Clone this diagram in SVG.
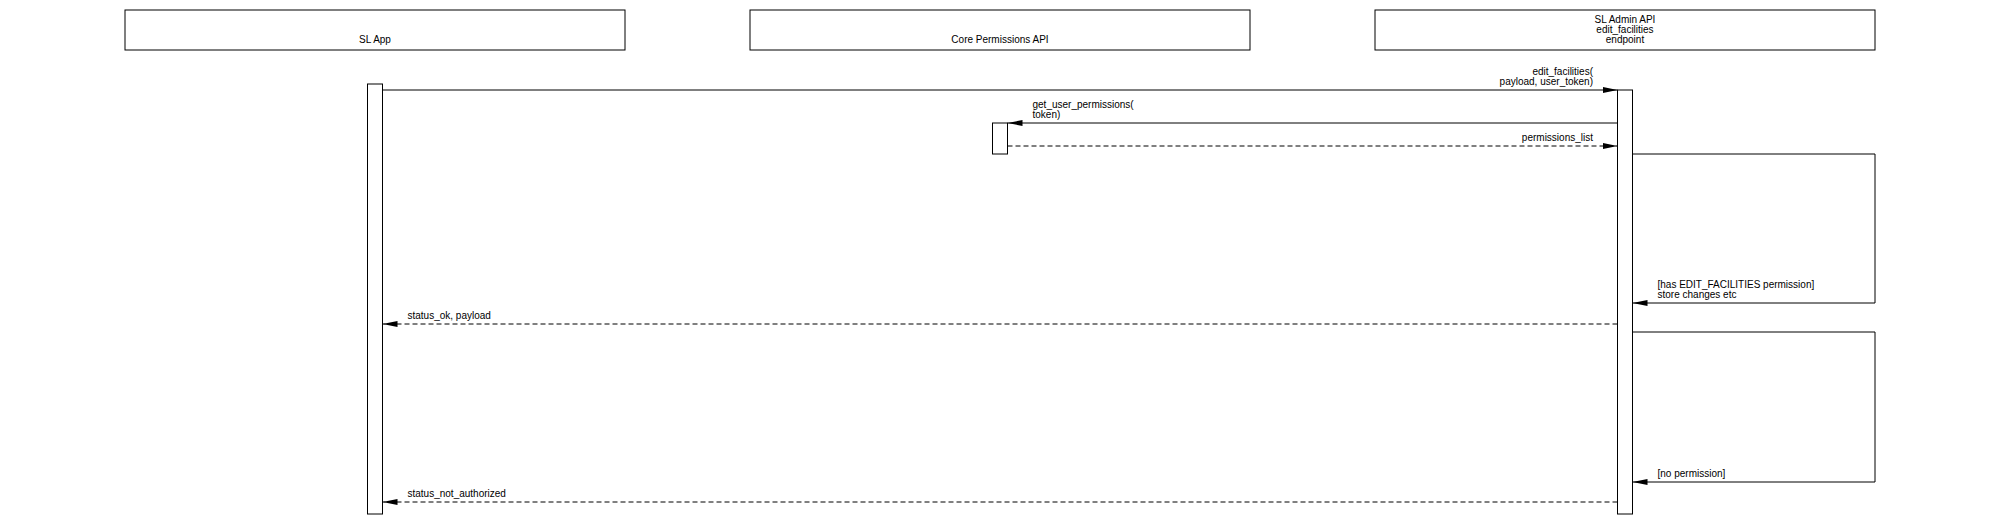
<svg xmlns="http://www.w3.org/2000/svg" width="2000" height="525" viewBox="0 0 2000 525">
<style>
text{font-family:"Liberation Sans",Arial,sans-serif;font-size:10px;fill:#000}
.actor{fill:#fff;stroke:#000;stroke-width:1}
.act{fill:#fff;stroke:#000;stroke-width:1}
.msg{fill:none;stroke:#000;stroke-width:1}
.ret{fill:none;stroke:#000;stroke-width:1;stroke-dasharray:5,3}
.c{text-anchor:middle}
.e{text-anchor:end}
</style>
<defs>
<marker id="ah" markerUnits="userSpaceOnUse" markerWidth="16" markerHeight="8" refX="15" refY="4" orient="auto">
<path d="M0,1 L15,4 L0,7 z" fill="#000"/>
</marker>
</defs>
<rect width="2000" height="525" fill="#fff"/>
<g id="sl-app">
<rect class="actor" x="125" y="10" width="500" height="40"/>
<text class="c" x="375" y="43">SL App</text>
</g>
<g id="core-permissions-api">
<rect class="actor" x="750" y="10" width="500" height="40"/>
<text class="c" x="1000" y="43">Core Permissions API</text>
</g>
<g id="sl-admin-api">
<rect class="actor" x="1375" y="10" width="500" height="40"/>
<text class="c" x="1625" y="23">SL Admin API</text>
<text class="c" x="1625" y="33">edit_facilities</text>
<text class="c" x="1625" y="43">endpoint</text>
</g>
<g id="activations">
<rect class="act" x="367.5" y="84" width="15" height="430"/>
<rect class="act" x="1617.5" y="90" width="15" height="424"/>
<rect class="act" x="992.5" y="123" width="15" height="31"/>
</g>
<g id="connectors">
<line class="msg" x1="382.5" y1="90" x2="1617.5" y2="90" marker-end="url(#ah)"/>
<line class="msg" x1="1617.5" y1="123" x2="1007.5" y2="123" marker-end="url(#ah)"/>
<line class="ret" x1="1007.5" y1="146" x2="1617.5" y2="146" marker-end="url(#ah)"/>
<polyline class="msg" points="1632.5,154 1875,154 1875,303 1632.5,303" marker-end="url(#ah)"/>
<line class="ret" x1="1617.5" y1="324" x2="382.5" y2="324" marker-end="url(#ah)"/>
<polyline class="msg" points="1632.5,332 1875,332 1875,482 1632.5,482" marker-end="url(#ah)"/>
<line class="ret" x1="1617.5" y1="502" x2="382.5" y2="502" marker-end="url(#ah)"/>
</g>
<g id="labels">
<text class="e" x="1593" y="75">edit_facilities(</text>
<text class="e" x="1593" y="85">payload, user_token)</text>
<text x="1032.5" y="108">get_user_permissions(</text>
<text x="1032.5" y="118">token)</text>
<text class="e" x="1593" y="141">permissions_list</text>
<text x="1657.5" y="288">[has EDIT_FACILITIES permission]</text>
<text x="1657.5" y="298">store changes etc</text>
<text x="407.5" y="319">status_ok, payload</text>
<text x="1657.5" y="477">[no permission]</text>
<text x="407.5" y="497">status_not_authorized</text>
</g>
</svg>
